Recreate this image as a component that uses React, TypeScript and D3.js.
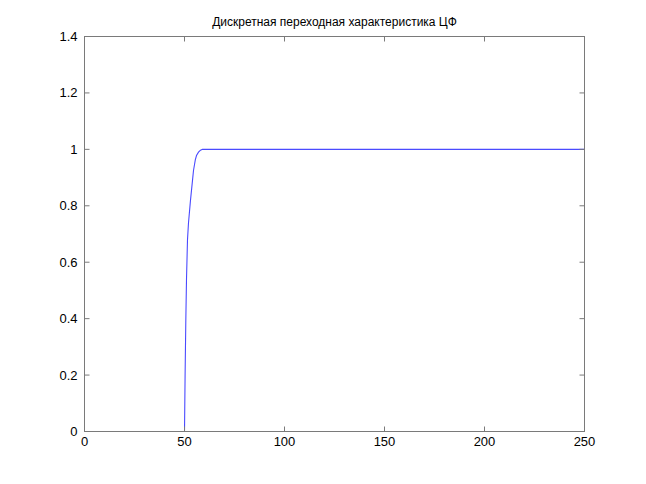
import React from "react";
import * as d3 from "d3";

const title = "Дискретная переходная характеристика ЦФ";
const xTicks = [0, 50, 100, 150, 200, 250];
const yTicks = [0, 0.2, 0.4, 0.6, 0.8, 1, 1.2, 1.4];
const sampleN = [0, 50, 50.3, 50.65, 51, 51.5, 52, 53, 54, 54.5, 55.4, 56, 57, 58, 59, 60, 100, 150, 200, 250];
const sampleY = [0, 0, 0.2, 0.39, 0.54, 0.68, 0.74, 0.82, 0.89, 0.925, 0.963, 0.978, 0.99, 0.997, 1, 1, 1, 1, 1, 1];

const W = 646, H = 484;
const L = 84.5, R = 584.5, T = 36.5, B = 431.5;

export default function App() {
  const x = d3.scaleLinear().domain([0, 250]).range([L, R]);
  const y = d3.scaleLinear().domain([0, 1.4]).range([B, T]);
  const data = sampleN.map((n, i) => [n, sampleY[i]] as [number, number]);
  const line = d3.line<[number, number]>().x(d => x(d[0])).y(d => y(d[1]));
  const axisColor = "#7a7a7a";
  const tick = 5;
  return (
    <svg width={W} height={H} style={{ position: "absolute", left: 0, top: 0, background: "#fff" }}
      fontFamily="Liberation Sans, Arial, sans-serif">
      <defs>
        <clipPath id="plotclip">
          <rect x={L + 1} y={T} width={R - L} height={B - T - 1} />
        </clipPath>
      </defs>
      <rect x={0} y={0} width={W} height={H} fill="#fff" />
      <path d={line(data) || ""} fill="none" stroke="#4a4aff" strokeWidth={1.1} clipPath="url(#plotclip)" />
      <rect x={L} y={T} width={R - L} height={B - T} fill="none" stroke={axisColor} strokeWidth={1} />
      {xTicks.map(t => (
        <g key={"x" + t}>
          <line x1={x(t)} x2={x(t)} y1={B} y2={B - tick} stroke={axisColor} />
          <line x1={x(t)} x2={x(t)} y1={T} y2={T + tick} stroke={axisColor} />
          <text x={x(t)} y={446} textAnchor="middle" fontSize={13} fill="#000">{t}</text>
        </g>
      ))}
      {yTicks.map(t => (
        <g key={"y" + t}>
          <line x1={L} x2={L + tick} y1={y(t)} y2={y(t)} stroke={axisColor} />
          <line x1={R} x2={R - tick} y1={y(t)} y2={y(t)} stroke={axisColor} />
          <text x={L - 7} y={y(t) + 4.5} textAnchor="end" fontSize={13} fill="#000">{d3.format("~g")(t)}</text>
        </g>
      ))}
      <text x={(L + R) / 2} y={26} textAnchor="middle" fontSize={12} fill="#000">{title}</text>
    </svg>
  );
}
